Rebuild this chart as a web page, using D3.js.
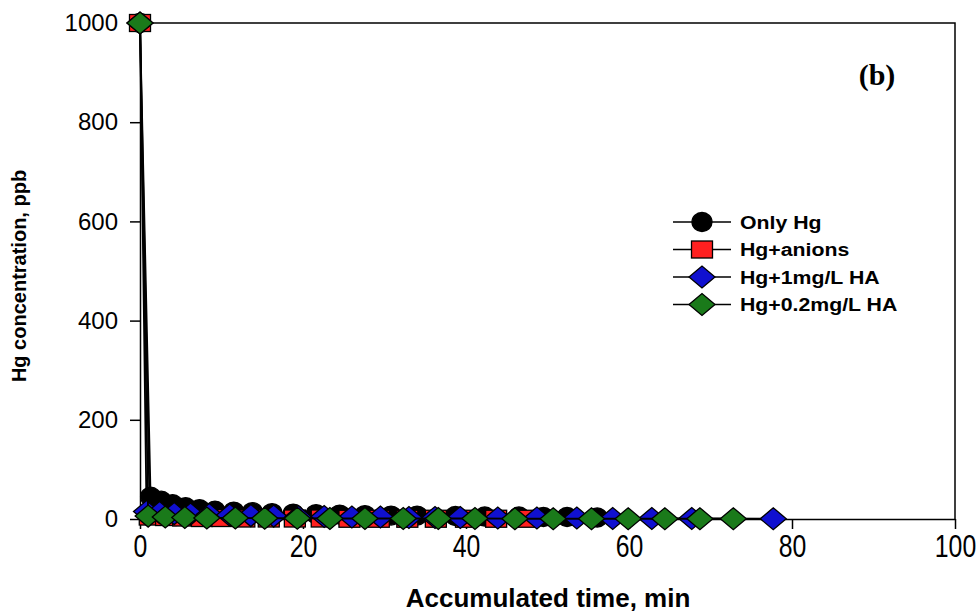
<!doctype html>
<html>
<head>
    <meta charset="utf-8" />
    <title>Hg concentration vs accumulated time</title>
    <script src="https://cdn.jsdelivr.net/npm/d3@7"></script>
    <style>
        body { margin: 0; background: #fff; }
        text { fill: #000; }
    </style>
</head>
<body>
    <svg id="chart"></svg>

    <script>
        // series data (time in min, Hg in ppb)
        const timeOnlyHg = [0, 1.3, 2.6, 4.0, 5.6, 7.3, 9.2, 11.5, 13.8, 16.2, 18.8, 21.6, 24.5, 27.6, 30.8, 34.0, 38.7, 42.3, 46.5, 49.5, 52.4, 56.1];
        const concOnlyHg = [1000, 45, 37, 30, 24, 20, 17, 15, 14, 12, 11, 10, 9, 8, 7, 7, 6, 5, 5, 4, 4, 3];

        const timeAnions = [0, 1.2, 3.2, 5.3, 7.6, 10.1, 12.8, 15.8, 19.0, 22.3, 25.7, 29.3, 32.8, 36.3, 40.0, 43.7, 47.6];
        const concAnions = [1000, 5, 4, 3, 2, 2, 1, 1, 1, 1, 0.5, 0.5, 0.5, 0.5, 0.5, 0.5, 0.5];

        const timeHA1 = [0, 0.8, 2.4, 4.2, 6.2, 8.5, 11.0, 13.6, 16.4, 19.4, 22.6, 26.0, 29.5, 33.0, 36.2, 39.3, 43.9, 48.7, 53.6, 58.0, 62.8, 67.7, 77.7];
        const concHA1 = [1000, 15, 13, 11, 10, 9, 8, 7, 6, 5, 5, 4, 4, 3, 3, 3, 2, 2, 2, 1, 1, 1, 0.5];

        const timeHA02 = [0, 1.0, 3.1, 5.5, 8.2, 11.7, 15.3, 19.3, 23.3, 27.6, 32.3, 36.6, 41.1, 46.0, 50.7, 55.4, 59.9, 64.4, 68.7, 72.8];
        const concHA02 = [1000, 6, 4, 3, 2, 2, 1.5, 1.5, 1, 1, 1, 1, 1, 0.5, 0.5, 0.5, 0.5, 0.5, 0.5, 0.5];

        const seriesNames = ["Only Hg", "Hg+anions", "Hg+1mg/L HA", "Hg+0.2mg/L HA"];
        const xTicks = [0, 20, 40, 60, 80, 100];
        const yTicks = [0, 200, 400, 600, 800, 1000];

        renderChart("#chart");

        function renderChart(container) {
            const width = 979, height = 612;
            const plot = {left: 140, right: 955, top: 23, bottom: 519};
            const sans = "Arial, 'Liberation Sans', sans-serif";

            const svg = d3.select(container)
                .attr("width", width)
                .attr("height", height)
                .style("font-family", sans);

            const x = d3.scaleLinear().domain([0, 100]).range([plot.left, plot.right]);
            const y = d3.scaleLinear().domain([0, 1000]).range([plot.bottom, plot.top]);

            const series = [
                {name: seriesNames[0], t: timeOnlyHg, c: concOnlyHg, shape: "circle", fill: "#000000"},
                {name: seriesNames[1], t: timeAnions, c: concAnions, shape: "square", fill: "#ff2020"},
                {name: seriesNames[2], t: timeHA1, c: concHA1, shape: "diamond", fill: "#1010d0"},
                {name: seriesNames[3], t: timeHA02, c: concHA02, shape: "diamond", fill: "#1a7a1a"}
            ];

            // frame (top and right)
            svg.append("path")
                .attr("fill", "none")
                .attr("stroke", "#000")
                .attr("stroke-width", 1.5)
                .attr("d", `M${plot.left},${plot.top}H${plot.right}V${plot.bottom}`);

            // axes
            const xAxis = svg.append("g")
                .attr("transform", `translate(0,${plot.bottom})`)
                .call(d3.axisBottom(x).tickValues(xTicks).tickFormat(d3.format("d"))
                    .tickSize(10).tickSizeOuter(0).tickPadding(6));
            xAxis.selectAll("text")
                .style("font-family", sans)
                .attr("font-size", 31)
                .attr("transform", "scale(0.8,1)");

            const yAxis = svg.append("g")
                .attr("transform", `translate(${plot.left},0)`)
                .call(d3.axisLeft(y).tickValues(yTicks).tickFormat(d3.format("d"))
                    .tickSize(10).tickSizeOuter(0).tickPadding(12));
            yAxis.selectAll("text")
                .style("font-family", sans)
                .attr("font-size", 24);

            svg.selectAll(".domain").attr("stroke-width", 1.5);
            svg.selectAll(".tick line").attr("stroke-width", 1.5);

            // axis titles
            svg.append("text")
                .attr("x", 548)
                .attr("y", 607)
                .attr("text-anchor", "middle")
                .attr("font-size", 26)
                .attr("font-weight", "bold")
                .text("Accumulated time, min");

            svg.append("text")
                .attr("transform", "translate(26,276) rotate(-90)")
                .attr("text-anchor", "middle")
                .attr("font-size", 20)
                .attr("font-weight", "bold")
                .text("Hg concentration, ppb");

            svg.append("text")
                .attr("x", 877)
                .attr("y", 85)
                .attr("text-anchor", "middle")
                .style("font-family", "'Liberation Serif', 'Times New Roman', serif")
                .attr("font-size", 30)
                .attr("font-weight", "bold")
                .text("(b)");

            const line = d3.line().x(d => x(d[0])).y(d => y(d[1]));

            const marker = (g, s) => {
                if (s.shape === "circle") {
                    g.append("ellipse").attr("rx", 10).attr("ry", 9.5);
                } else if (s.shape === "square") {
                    g.append("rect").attr("x", -10.5).attr("y", -8.5).attr("width", 21).attr("height", 17);
                } else {
                    g.append("path").attr("d", "M-13,0L0,-11L13,0L0,11Z");
                }
                g.selectAll("*")
                    .attr("fill", s.fill)
                    .attr("stroke", "#000")
                    .attr("stroke-width", 1.3);
            };

            series.forEach(s => {
                const pts = s.t.map((t, i) => [t, s.c[i]]);
                const g = svg.append("g");
                g.append("path")
                    .datum(pts)
                    .attr("fill", "none")
                    .attr("stroke", "#000")
                    .attr("stroke-width", 1.8)
                    .attr("d", line);
                g.selectAll("g")
                    .data(pts)
                    .join("g")
                    .attr("transform", d => `translate(${x(d[0])},${y(d[1])})`)
                    .each(function() { marker(d3.select(this), s); });
            });

            // legend
            const legend = svg.append("g");
            series.forEach((s, i) => {
                const ly = 222 + i * 27.5;
                legend.append("line")
                    .attr("x1", 673).attr("x2", 731)
                    .attr("y1", ly).attr("y2", ly)
                    .attr("stroke", "#000")
                    .attr("stroke-width", 1.5);
                const g = legend.append("g").attr("transform", `translate(702,${ly})`);
                marker(g, s);
                legend.append("text")
                    .attr("x", 740)
                    .attr("y", ly)
                    .attr("dy", "0.36em")
                    .attr("font-size", 19)
                    .attr("font-weight", "bold")
                    .attr("transform", `translate(740,0) scale(1.12,1) translate(-740,0)`)
                    .text(s.name);
            });
        }
    </script>
</body>
</html>
